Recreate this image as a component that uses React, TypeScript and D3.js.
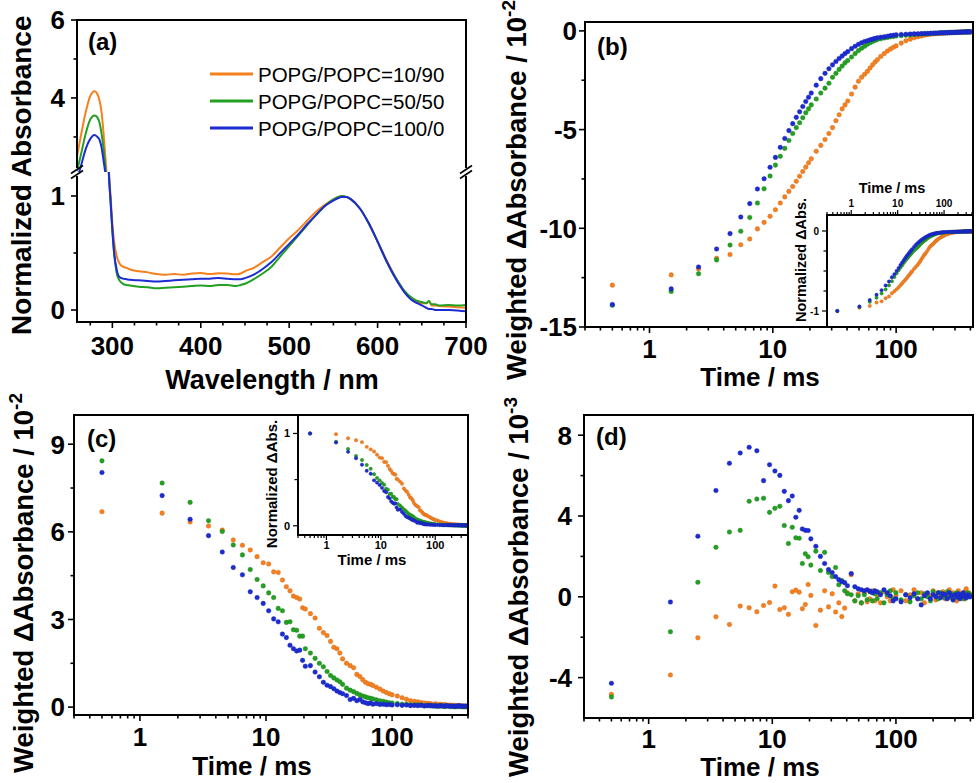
import React from 'react';
import * as d3 from 'd3';

const FONT = '"Liberation Sans", Arial, Helvetica, sans-serif';

const seriesNames = ['POPG/POPC=10/90', 'POPG/POPC=50/50', 'POPG/POPC=100/0'];
const seriesColors = ['#F7801E', '#23A023', '#1C2BD2'];

// (a) normalized absorption spectra
const wavelength = [260, 265, 270, 275, 280, 283, 285, 288, 290, 293, 296, 298, 300, 302, 305, 308, 312, 316, 320, 330,
  340, 350, 360, 370, 380, 390, 400, 410, 420, 430, 440, 445, 450, 460, 470, 480, 490, 500, 510, 520,
  530, 540, 550, 555, 560, 565, 570, 580, 590, 600, 610, 620, 630, 640, 645, 650, 655, 658, 661, 665,
  670, 680, 690, 700];
const absOrange = [2.5, 3.1, 3.65, 4.05, 4.17, 4.1, 3.98, 3.6, 3.1, 2.2, 1.25, 1.0, 0.76, 0.6, 0.47, 0.41, 0.38, 0.37, 0.355, 0.34,
  0.33, 0.315, 0.31, 0.315, 0.31, 0.32, 0.325, 0.315, 0.322, 0.32, 0.313, 0.32, 0.34, 0.37, 0.42, 0.47, 0.55, 0.63, 0.7, 0.78,
  0.86, 0.92, 0.97, 0.99, 1.0, 0.99, 0.97, 0.89, 0.76, 0.6, 0.44, 0.29, 0.17, 0.09, 0.07, 0.06, 0.06, 0.08, 0.04, 0.04,
  0.035, 0.03, 0.025, 0.02];
const absGreen = [2.12, 2.6, 3.1, 3.45, 3.55, 3.5, 3.4, 3.05, 2.7, 2.0, 1.2, 0.95, 0.7, 0.5, 0.32, 0.26, 0.23, 0.22, 0.215, 0.205,
  0.2, 0.19, 0.195, 0.2, 0.205, 0.21, 0.215, 0.21, 0.22, 0.22, 0.21, 0.22, 0.23, 0.27, 0.32, 0.38, 0.47, 0.56, 0.65, 0.74,
  0.83, 0.91, 0.97, 0.99, 1.0, 0.99, 0.97, 0.89, 0.76, 0.6, 0.43, 0.29, 0.17, 0.1, 0.08, 0.07, 0.06, 0.08, 0.05, 0.05,
  0.04, 0.045, 0.04, 0.045];
const absBlue = [1.9, 2.3, 2.7, 2.95, 3.05, 3.0, 2.95, 2.7, 2.4, 1.9, 1.2, 0.95, 0.7, 0.5, 0.35, 0.29, 0.275, 0.27, 0.265, 0.26,
  0.255, 0.25, 0.255, 0.26, 0.265, 0.27, 0.275, 0.275, 0.28, 0.275, 0.27, 0.27, 0.28, 0.31, 0.36, 0.42, 0.5, 0.58, 0.66, 0.75,
  0.83, 0.91, 0.96, 0.98, 0.99, 0.99, 0.97, 0.89, 0.76, 0.6, 0.43, 0.28, 0.16, 0.08, 0.06, 0.04, 0.02, 0.01, 0.01, 0.0,
  0.0, 0.0, -0.005, -0.01];

// time points (ms) shared by (b)-(d)
const time = [0.5, 1.5, 2.5, 3.5, 4.5, 5.5, 6.5, 7.5, 8.5, 9.5, 10.5, 11.5, 12.5, 13.5, 14.5, 15.5, 16.5, 17.5, 18.5, 19.5, 20.5,
  22.5, 24.5, 26.5, 28.5, 30.5, 32.5, 34.5, 36.5, 38.5, 40.5,
  43.5, 46.5, 49.5, 52.5, 55.5, 58.5, 61.5, 64.5, 67.5, 70.5,
  75, 80, 85, 90, 95, 100,
  110, 120, 130, 140, 150, 160, 170, 180, 190, 200, 210, 220, 230, 240, 250, 260, 270, 280, 290, 300,
  310, 320, 330, 340, 350, 360, 370, 380, 390, 400];

// (b) weighted ΔAbsorbance / 1e-2
const bOrange = [-12.88, -12.36, -12.06, -11.52, -11.33, -10.83, -10.54, -10.03, -9.70, -9.39, -9.06, -8.72, -8.41, -8.13, -7.88, -7.62, -7.36, -7.12, -6.90, -6.68, -6.48,
  -6.10, -5.80, -5.50, -5.20, -4.90, -4.55, -4.25, -3.95, -3.75, -3.55,
  -3.20, -2.85, -2.55, -2.35, -2.20, -2.05, -1.88, -1.72, -1.58, -1.46,
  -1.30, -1.15, -1.02, -0.92, -0.83, -0.76,
  -0.62, -0.50, -0.42, -0.35, -0.30, -0.26, -0.22, -0.19, -0.17, -0.15, -0.14, -0.13, -0.12, -0.11, -0.10, -0.10, -0.09, -0.09, -0.08, -0.08,
  -0.07, -0.07, -0.07, -0.06, -0.06, -0.06, -0.05, -0.05, -0.05, -0.05];
const bGreen = [-13.90, -13.20, -12.30, -11.60, -10.85, -10.15, -9.45, -8.72, -8.00, -7.35, -6.80, -6.35, -5.95, -5.55, -5.20, -4.90, -4.65, -4.40, -4.15, -3.95, -3.75,
  -3.45, -3.15, -2.90, -2.65, -2.35, -2.15, -1.95, -1.78, -1.62, -1.50,
  -1.32, -1.15, -1.00, -0.88, -0.78, -0.68, -0.60, -0.54, -0.48, -0.44,
  -0.40, -0.36, -0.33, -0.30, -0.28, -0.26,
  -0.24, -0.22, -0.20, -0.18, -0.17, -0.16, -0.15, -0.14, -0.13, -0.12, -0.12, -0.11, -0.10, -0.10, -0.09, -0.09, -0.08, -0.08, -0.08, -0.07,
  -0.07, -0.07, -0.06, -0.06, -0.06, -0.05, -0.05, -0.05, -0.05, -0.05];
const bBlue = [-13.86, -13.07, -11.96, -11.05, -10.27, -9.43, -8.75, -8.01, -7.49, -6.91, -6.41, -5.90, -5.45, -5.05, -4.70, -4.38, -4.10, -3.83, -3.58, -3.36, -3.15,
  -2.75, -2.42, -2.15, -1.92, -1.72, -1.55, -1.40, -1.27, -1.15, -1.05,
  -0.90, -0.78, -0.68, -0.60, -0.54, -0.50, -0.45, -0.42, -0.38, -0.35,
  -0.32, -0.30, -0.27, -0.24, -0.22, -0.20,
  -0.18, -0.17, -0.16, -0.15, -0.15, -0.14, -0.13, -0.13, -0.12, -0.12, -0.11, -0.11, -0.10, -0.10, -0.10, -0.09, -0.09, -0.08, -0.08, -0.08,
  -0.07, -0.07, -0.07, -0.06, -0.06, -0.06, -0.06, -0.05, -0.05, -0.05];

// (c) weighted ΔAbsorbance / 1e-2
const cOrange = [6.69, 6.64, 6.34, 6.20, 6.06, 5.72, 5.54, 5.38, 5.15, 4.94, 4.90, 4.63, 4.61, 4.35, 4.12, 3.98, 3.80, 3.75, 3.70, 3.40, 3.36,
  3.20, 3.05, 2.70, 2.55, 2.45, 2.25, 2.05, 2.00, 1.85, 1.65,
  1.50, 1.42, 1.35, 1.12, 1.05, 0.94, 0.85, 0.80, 0.78, 0.74,
  0.68, 0.62, 0.55, 0.50, 0.46, 0.42,
  0.38, 0.32, 0.27, 0.22, 0.20, 0.18, 0.16, 0.14, 0.13, 0.12, 0.10, 0.11, 0.09, 0.10, 0.08, 0.09, 0.07, 0.06, 0.07, 0.05,
  0.06, 0.05, 0.04, 0.05, 0.03, 0.04, 0.03, 0.02, 0.03, 0.02];
const cGreen = [8.43, 7.67, 7.01, 6.38, 6.01, 5.55, 5.21, 4.71, 4.37, 4.15, 3.91, 3.75, 3.38, 3.30, 2.90, 2.92, 2.65, 2.63, 2.43, 2.43, 2.00,
  1.85, 1.67, 1.50, 1.38, 1.22, 1.08, 1.00, 0.93, 0.87, 0.78,
  0.65, 0.58, 0.53, 0.47, 0.42, 0.38, 0.35, 0.32, 0.30, 0.28,
  0.25, 0.22, 0.20, 0.17, 0.15, 0.14,
  0.12, 0.10, 0.10, 0.08, 0.07, 0.08, 0.06, 0.05, 0.06, 0.04, 0.05, 0.03, 0.04, 0.03, 0.05, 0.02, 0.03, 0.04, 0.02, 0.03,
  0.02, 0.01, 0.03, 0.02, 0.02, 0.01, 0.03, 0.01, 0.02, 0.01];
const cBlue = [8.03, 7.24, 6.43, 5.87, 5.31, 4.78, 4.53, 3.95, 3.75, 3.55, 3.30, 3.02, 2.92, 2.50, 2.38, 2.12, 2.00, 1.92, 1.95, 1.60, 1.40,
  1.42, 1.20, 1.04, 0.85, 0.75, 0.70, 0.63, 0.55, 0.50, 0.46,
  0.40, 0.26, 0.30, 0.22, 0.26, 0.18, 0.15, 0.12, 0.14, 0.10,
  0.12, 0.09, 0.10, 0.08, 0.09, 0.07,
  0.08, 0.06, 0.07, 0.05, 0.06, 0.05, 0.07, 0.04, 0.05, 0.06, 0.04, 0.05, 0.03, 0.05, 0.04, 0.03, 0.05, 0.04, 0.03, 0.04,
  0.02, 0.04, 0.03, 0.05, 0.03, 0.04, 0.02, 0.04, 0.03, 0.03];

// (d) weighted ΔAbsorbance / 1e-3
const dOrange = [-4.83, -3.87, -2.03, -0.99, -1.37, -0.46, -0.54, -0.74, -0.43, -0.28, 0.53, -0.63, -0.54, -0.87, 0.25, 0.33, 0.23, -0.59, -0.38, 0.61, 0.07,
  -1.42, -0.66, 0.30, -0.50, 0.15, -0.75, -0.30, -0.98, -0.56, 0.20,
  1.09, -0.20, 0.15, -0.30, 0.20, -0.25, -0.10, 0.30, -0.20, 0.10,
  -0.30, 0.25, 0.00, -0.20, 0.35, 0.05,
  0.30, -0.20, 0.10, 0.35, -0.10, 0.20, -0.30, 0.15, 0.05, 0.30, -0.15, 0.20, 0.00, 0.25, -0.10, 0.15, 0.35, -0.05, 0.20, 0.10,
  -0.20, 0.30, 0.05, 0.15, -0.10, 0.25, 0.40, 0.00, 0.20, 0.10];
const dGreen = [-4.96, -1.73, 0.72, 2.45, 3.21, 3.29, 4.73, 4.84, 4.88, 4.18, 4.38, 4.48, 3.53, 2.64, 3.44, 2.92, 2.90, 1.65, 2.13, 1.98, 1.57,
  2.26, 1.30, 2.20, 1.20, 1.00, 1.45, 0.60, 0.80, 0.30, 0.15,
  0.10, -0.20, 0.05, -0.30, 0.10, -0.15, 0.25, -0.20, 0.15, -0.10,
  0.20, -0.30, 0.10, 0.30, -0.10, 0.20,
  -0.15, 0.10, -0.25, 0.05, 0.20, -0.10, 0.15, 0.00, -0.20, 0.25, 0.05, -0.10, 0.20, 0.10, -0.05, 0.25, 0.00, 0.15, -0.15, 0.10,
  0.20, -0.05, 0.10, 0.00, 0.15, -0.10, 0.05, 0.20, 0.00, 0.10];
const dBlue = [-4.28, -0.26, 3.00, 5.26, 6.61, 7.12, 7.40, 7.23, 5.75, 6.54, 6.23, 6.01, 5.22, 4.76, 4.99, 3.94, 4.28, 3.36, 3.29, 3.28, 2.87,
  2.50, 2.00, 1.65, 1.35, 1.20, 1.00, 0.85, 0.75, 0.70, 0.55,
  1.15, 0.50, 0.40, 0.35, 0.30, 0.35, 0.28, 0.20, 0.30, 0.25,
  0.10, 0.35, 0.20, 0.05, -0.20, -0.10,
  -0.25, 0.10, -0.05, 0.15, -0.10, -0.40, 0.05, 0.20, -0.10, 0.10, 0.00, 0.20, -0.05, 0.15, 0.10, -0.10, 0.20, 0.05, -0.15, 0.10,
  0.00, 0.15, -0.10, 0.05, 0.20, 0.00, -0.05, 0.10, 0.05, 0.00];

type Box = { x0: number; x1: number; y0: number; y1: number };

const normalize = (s: number[]) => s.map(v => v / Math.abs(s[0]));

const isDecade = (v: number) => Math.abs(Math.log10(v) - Math.round(Math.log10(v))) < 1e-9;

const darker = (c: string) => d3.color(c)!.darker(0.6).formatHex();

function Frame({ box, w = 2 }: { box: Box; w?: number }) {
  return (
    <rect x={box.x0} y={box.y0} width={box.x1 - box.x0} height={box.y1 - box.y0}
      fill="none" stroke="#000" strokeWidth={w} />
  );
}

function Dots({ xs, ys, x, y, color, r }: any) {
  const edge = darker(color);
  return (
    <g>
      {ys.map((v: number, i: number) => (
        <circle key={i} cx={x(xs[i])} cy={y(v)} r={r} fill={color} stroke={edge} strokeWidth={0.4} />
      ))}
    </g>
  );
}

function PanelA() {
  const box = { x0: 77, x1: 466, y0: 20, y1: 322 };
  const yBreak = 172;
  const x = d3.scaleLinear().domain([260, 700]).range([box.x0, box.x1]);
  const yUp = d3.scaleLinear().domain([2.1, 6]).range([yBreak, box.y0]);
  const yLo = d3.scaleLinear().domain([-0.105, 1.21]).range([box.y1, yBreak]);
  const spectra = [absOrange, absGreen, absBlue];
  const mk = (ys: d3.ScaleLinear<number, number>) =>
    d3.line<number>().x((_, i) => x(wavelength[i])).y(v => ys(v)).curve(d3.curveMonotoneX);
  const upLine = mk(yUp);
  const loLine = mk(yLo);
  const xTicks = d3.range(275, 701, 25);
  const yTicksUp = [{ v: 6, major: true }, { v: 5, major: false }, { v: 4, major: true }, { v: 3, major: false }];
  const yTicksLo = [{ v: 1, major: true }, { v: 0.5, major: false }, { v: 0, major: true }];
  const slash = (cx: number) => (
    <g key={cx} stroke="#000" strokeWidth={1.6}>
      <line x1={cx - 6} y1={yBreak - 2.5 + 4} x2={cx + 6} y2={yBreak - 2.5 - 4} />
      <line x1={cx - 6} y1={yBreak + 2.5 + 4} x2={cx + 6} y2={yBreak + 2.5 - 4} />
    </g>
  );
  return (
    <g>
      <defs>
        <clipPath id="clipAUp"><rect x={box.x0} y={box.y0} width={box.x1 - box.x0} height={yBreak - box.y0} /></clipPath>
        <clipPath id="clipALo"><rect x={box.x0} y={yBreak} width={box.x1 - box.x0} height={box.y1 - yBreak} /></clipPath>
      </defs>
      <g clipPath="url(#clipAUp)">
        {spectra.map((s, k) => (
          <path key={k} d={upLine(s) || ''} fill="none" stroke={seriesColors[k]} strokeWidth={2} />
        ))}
      </g>
      <g clipPath="url(#clipALo)">
        {spectra.map((s, k) => (
          <path key={k} d={loLine(s) || ''} fill="none" stroke={seriesColors[k]} strokeWidth={2} />
        ))}
      </g>
      {/* frame with axis break */}
      <g stroke="#000" strokeWidth={2} fill="none">
        <line x1={box.x0 - 1} y1={box.y0} x2={box.x1 + 1} y2={box.y0} />
        <line x1={box.x0 - 1} y1={box.y1} x2={box.x1 + 1} y2={box.y1} />
        <line x1={box.x0} y1={box.y0} x2={box.x0} y2={yBreak - 4} />
        <line x1={box.x0} y1={yBreak + 4} x2={box.x0} y2={box.y1} />
        <line x1={box.x1} y1={box.y0} x2={box.x1} y2={yBreak - 4} />
        <line x1={box.x1} y1={yBreak + 4} x2={box.x1} y2={box.y1} />
      </g>
      {slash(box.x0)}
      {slash(box.x1)}
      <g stroke="#000" strokeWidth={1.6}>
        {xTicks.map(v => (
          <line key={v} x1={x(v)} x2={x(v)} y1={box.y1} y2={box.y1 + (v % 100 === 0 ? 6 : 3.5)} />
        ))}
        {[...yTicksUp.map(t => ({ ...t, p: yUp(t.v) })), ...yTicksLo.map(t => ({ ...t, p: yLo(t.v) }))].map(t => (
          <line key={t.v} x1={box.x0} x2={box.x0 - (t.major ? 6 : 3.5)} y1={t.p} y2={t.p} />
        ))}
      </g>
      <g fontFamily={FONT} fontWeight="bold" fontSize={26} fill="#000">
        {xTicks.filter(v => v % 100 === 0).map(v => (
          <text key={v} x={x(v)} y={355} textAnchor="middle">{v}</text>
        ))}
        {yTicksUp.filter(t => t.major).map(t => (
          <text key={t.v} x={65} y={yUp(t.v)} dy="0.36em" textAnchor="end">{t.v}</text>
        ))}
        {yTicksLo.filter(t => t.major).map(t => (
          <text key={t.v} x={65} y={yLo(t.v)} dy="0.36em" textAnchor="end">{t.v}</text>
        ))}
      </g>
      <text x={272} y={389} textAnchor="middle" fontFamily={FONT} fontWeight="bold" fontSize={27}>Wavelength / nm</text>
      <text transform="translate(30.5,335) rotate(-90)" fontFamily={FONT} fontWeight="bold" fontSize={28}>Normalized Absorbance</text>
      <text x={88} y={50} fontFamily={FONT} fontWeight="bold" fontSize={24}>(a)</text>
      {seriesNames.map((n, k) => (
        <g key={n}>
          <line x1={210} x2={253} y1={74 + k * 27} y2={74 + k * 27} stroke={seriesColors[k]} strokeWidth={3} />
          <text x={258} y={74 + k * 27 + 7.5} fontFamily={FONT} fontSize={20.5}>{n}</text>
        </g>
      ))}
    </g>
  );
}

type ScatterProps = {
  id: string;
  box: Box;
  xDomain: [number, number];
  yDomain: [number, number];
  yMajor: number[];
  yMinor: number[];
  series: number[][];
  tag: string;
  tagX: number;
  tagY: number;
  yLabelRight: number;
  xLabelY: number;
  titleX: number;
  titleY: number;
  yTitleX: number;
  yTitleY: number;
  exponent: string;
};

function ScatterPanel(p: ScatterProps) {
  const { box } = p;
  const x = d3.scaleLog().domain(p.xDomain).range([box.x0, box.x1]);
  const y = d3.scaleLinear().domain(p.yDomain).range([box.y1, box.y0]);
  const xt = x.ticks();
  return (
    <g>
      <defs>
        <clipPath id={p.id}><rect x={box.x0} y={box.y0} width={box.x1 - box.x0} height={box.y1 - box.y0} /></clipPath>
      </defs>
      <g clipPath={`url(#${p.id})`}>
        {p.series.map((s, k) => (
          <Dots key={k} xs={time} ys={s} x={x} y={y} color={seriesColors[k]} r={2.3} />
        ))}
      </g>
      <Frame box={box} />
      <g stroke="#000" strokeWidth={1.6}>
        {xt.map(v => (
          <line key={v} x1={x(v)} x2={x(v)} y1={box.y1} y2={box.y1 + (isDecade(v) ? 6 : 3.5)} />
        ))}
        {p.yMajor.map(v => <line key={'M' + v} x1={box.x0} x2={box.x0 - 6} y1={y(v)} y2={y(v)} />)}
        {p.yMinor.map(v => <line key={'m' + v} x1={box.x0} x2={box.x0 - 3.5} y1={y(v)} y2={y(v)} />)}
      </g>
      <g fontFamily={FONT} fontWeight="bold" fontSize={26} fill="#000">
        {xt.filter(isDecade).filter(v => v >= 1).map(v => (
          <text key={v} x={x(v)} y={p.xLabelY} textAnchor="middle">{String(v)}</text>
        ))}
        {p.yMajor.map(v => (
          <text key={v} x={p.yLabelRight} y={y(v)} dy="0.36em" textAnchor="end">{String(v)}</text>
        ))}
      </g>
      <text x={p.titleX} y={p.titleY} textAnchor="middle" fontFamily={FONT} fontWeight="bold" fontSize={26}>Time / ms</text>
      <text transform={`translate(${p.yTitleX},${p.yTitleY}) rotate(-90)`} fontFamily={FONT} fontWeight="bold" fontSize={27.5}>
        Weighted ΔAbsorbance / 10<tspan dy={-11} fontSize={19}>{p.exponent}</tspan>
      </text>
      <text x={p.tagX} y={p.tagY} fontFamily={FONT} fontWeight="bold" fontSize={24}>{p.tag}</text>
    </g>
  );
}

type InsetProps = {
  id: string;
  box: Box;
  xDomain: [number, number];
  yDomain: [number, number];
  yTicks: number[];
  yLabels: number[];
  series: number[][];
  side: 'top' | 'bottom';
  xLabelY: number;
  titleX: number;
  titleY: number;
  yTitleX: number;
  yTitleY: number;
  labelSize: number;
  titleSize: number;
};

function Inset(p: InsetProps) {
  const { box } = p;
  const x = d3.scaleLog().domain(p.xDomain).range([box.x0, box.x1]);
  const y = d3.scaleLinear().domain(p.yDomain).range([box.y1, box.y0]);
  const xt = x.ticks();
  const ay = p.side === 'top' ? box.y0 : box.y1;
  const dir = p.side === 'top' ? -1 : 1;
  return (
    <g>
      <defs>
        <clipPath id={p.id}><rect x={box.x0} y={box.y0} width={box.x1 - box.x0} height={box.y1 - box.y0} /></clipPath>
      </defs>
      <rect x={box.x0} y={box.y0} width={box.x1 - box.x0} height={box.y1 - box.y0} fill="#fff" />
      <g clipPath={`url(#${p.id})`}>
        {p.series.map((s, k) => (
          <Dots key={k} xs={time} ys={s} x={x} y={y} color={seriesColors[k]} r={1.7} />
        ))}
      </g>
      <Frame box={box} />
      <g stroke="#000" strokeWidth={1.2}>
        {xt.map(v => (
          <line key={v} x1={x(v)} x2={x(v)} y1={ay} y2={ay + dir * (isDecade(v) ? 5 : 3)} />
        ))}
        {p.yTicks.map(v => (
          <line key={v} x1={box.x0} x2={box.x0 - (p.yLabels.includes(v) ? 5 : 3.5)} y1={y(v)} y2={y(v)} />
        ))}
      </g>
      <g fontFamily={FONT} fontWeight="bold" fontSize={p.labelSize} fill="#000">
        {xt.filter(isDecade).filter(v => v >= 1).map(v => (
          <text key={v} x={x(v)} y={p.xLabelY} textAnchor="middle">{String(v)}</text>
        ))}
        {p.yLabels.map(v => (
          <text key={v} x={box.x0 - 8} y={y(v)} dy="0.36em" textAnchor="end">{String(v)}</text>
        ))}
      </g>
      <text x={p.titleX} y={p.titleY} textAnchor="middle" fontFamily={FONT} fontWeight="bold" fontSize={p.titleSize}>Time / ms</text>
      <text transform={`translate(${p.yTitleX},${p.yTitleY}) rotate(-90)`} textAnchor="middle"
        fontFamily={FONT} fontWeight="bold" fontSize={p.titleSize}>Normalized ΔAbs.</text>
    </g>
  );
}

export default function App() {
  return (
    <svg width={980} height={783} viewBox="0 0 980 783"
      style={{ position: 'absolute', left: 0, top: 0, background: '#fff', display: 'block' }}>
      <rect width={980} height={783} fill="#fff" />
      <PanelA />
      <ScatterPanel id="clipB" box={{ x0: 585, x1: 973, y0: 22, y1: 327 }} xDomain={[0.3, 420]} yDomain={[-15, 0.45]}
        yMajor={[0, -5, -10, -15]} yMinor={[-2.5, -7.5, -12.5]} series={[bOrange, bGreen, bBlue]}
        tag="(b)" tagX={597} tagY={55} yLabelRight={577} xLabelY={358} titleX={760} titleY={386}
        yTitleX={526} yTitleY={380} exponent="-2" />
      <Inset id="clipBi" box={{ x0: 827, x1: 973, y0: 215, y1: 327 }} xDomain={[0.3, 420]} yDomain={[-1.2, 0.2]}
        yTicks={[0, -0.25, -0.5, -0.75, -1]} yLabels={[0, -1]} series={[bOrange, bGreen, bBlue].map(normalize)}
        side="top" xLabelY={207} titleX={892} titleY={193} yTitleX={806} yTitleY={260} labelSize={10} titleSize={14.5} />
      <ScatterPanel id="clipC" box={{ x0: 74, x1: 468, y0: 415, y1: 715 }} xDomain={[0.3, 400]} yDomain={[-0.27, 10]}
        yMajor={[9, 6, 3, 0]} yMinor={[7.5, 4.5, 1.5]} series={[cOrange, cGreen, cBlue]}
        tag="(c)" tagX={87} tagY={447} yLabelRight={65} xLabelY={746} titleX={252} titleY={775}
        yTitleX={33} yTitleY={773} exponent="-2" />
      <Inset id="clipCi" box={{ x0: 298, x1: 468, y0: 415, y1: 535 }} xDomain={[0.3, 400]} yDomain={[-0.1, 1.2]}
        yTicks={[0, 0.5, 1]} yLabels={[0, 1]} series={[cOrange, cGreen, cBlue].map(normalize)}
        side="bottom" xLabelY={549} titleX={372} titleY={565} yTitleX={277} yTitleY={484} labelSize={11} titleSize={15} />
      <ScatterPanel id="clipD" box={{ x0: 584, x1: 973, y0: 415, y1: 718 }} xDomain={[0.3, 420]} yDomain={[-6, 9]}
        yMajor={[8, 4, 0, -4]} yMinor={[6, 2, -2]} series={[dOrange, dGreen, dBlue]}
        tag="(d)" tagX={596} tagY={445} yLabelRight={572} xLabelY={748} titleX={760} titleY={776}
        yTitleX={528} yTitleY={777} exponent="-3" />
    </svg>
  );
}
